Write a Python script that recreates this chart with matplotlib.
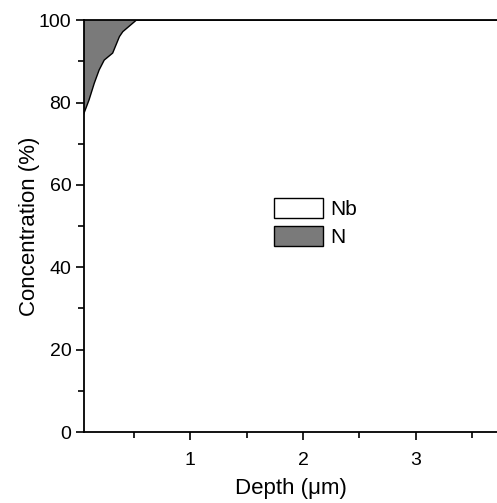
# N / Nb depth profile
import matplotlib
matplotlib.use('Agg')
from matplotlib import pyplot as plt
from matplotlib.patches import Patch
from matplotlib.ticker import MultipleLocator

plt.rcParams['font.family'] = ['Liberation Sans', 'DejaVu Sans']

depth = [0.05, 0.10, 0.147, 0.19, 0.235, 0.31, 0.37, 0.40, 0.52, 3.8]
conc_nb = [77.0, 80.6, 84.7, 87.9, 90.3, 92.0, 96.0, 97.2, 100.0, 100.0]
top = [100.0] * len(depth)

fig = plt.figure(figsize=(4.97, 5.03), dpi=100)
ax = fig.add_axes([0.170, 0.141, 0.830, 0.819])

# Nb below the curve (white), N above it (grey)
ax.fill_between(depth, 0, conc_nb, facecolor='white', edgecolor='none')
ax.fill_between(depth, conc_nb, top, facecolor='#7a7a7a', edgecolor='none')
ax.plot(depth, conc_nb, color='black', lw=1.0)

ax.set_xlim(0.06, 3.72)
ax.set_ylim(0, 100)
ax.xaxis.set_major_locator(MultipleLocator(1))
ax.xaxis.set_minor_locator(MultipleLocator(0.5))
ax.yaxis.set_major_locator(MultipleLocator(20))
ax.yaxis.set_minor_locator(MultipleLocator(10))
ax.tick_params(which='both', direction='out', labelsize=14, width=1.2)
ax.tick_params(which='major', length=6)
ax.tick_params(which='minor', length=4)
ax.tick_params(axis='x', pad=8)
ax.spines['right'].set_visible(False)
for s in ['left', 'bottom', 'top']:
    ax.spines[s].set_linewidth(1.3)

ax.set_xlabel('Depth (\u03bcm)', fontsize=16, labelpad=7)
ax.set_ylabel('Concentration (%)', fontsize=16, labelpad=-1)

handles = [Patch(facecolor='white', edgecolor='black', label='Nb'),
           Patch(facecolor='#7a7a7a', edgecolor='black', label='N')]
ax.legend(handles=handles, loc='upper left', bbox_to_anchor=(0.415, 0.613),
          frameon=False, fontsize=15, handlelength=2.35, handleheight=1.05,
          labelspacing=0.35, handletextpad=0.35)

fig.savefig('out.png', dpi=100)
